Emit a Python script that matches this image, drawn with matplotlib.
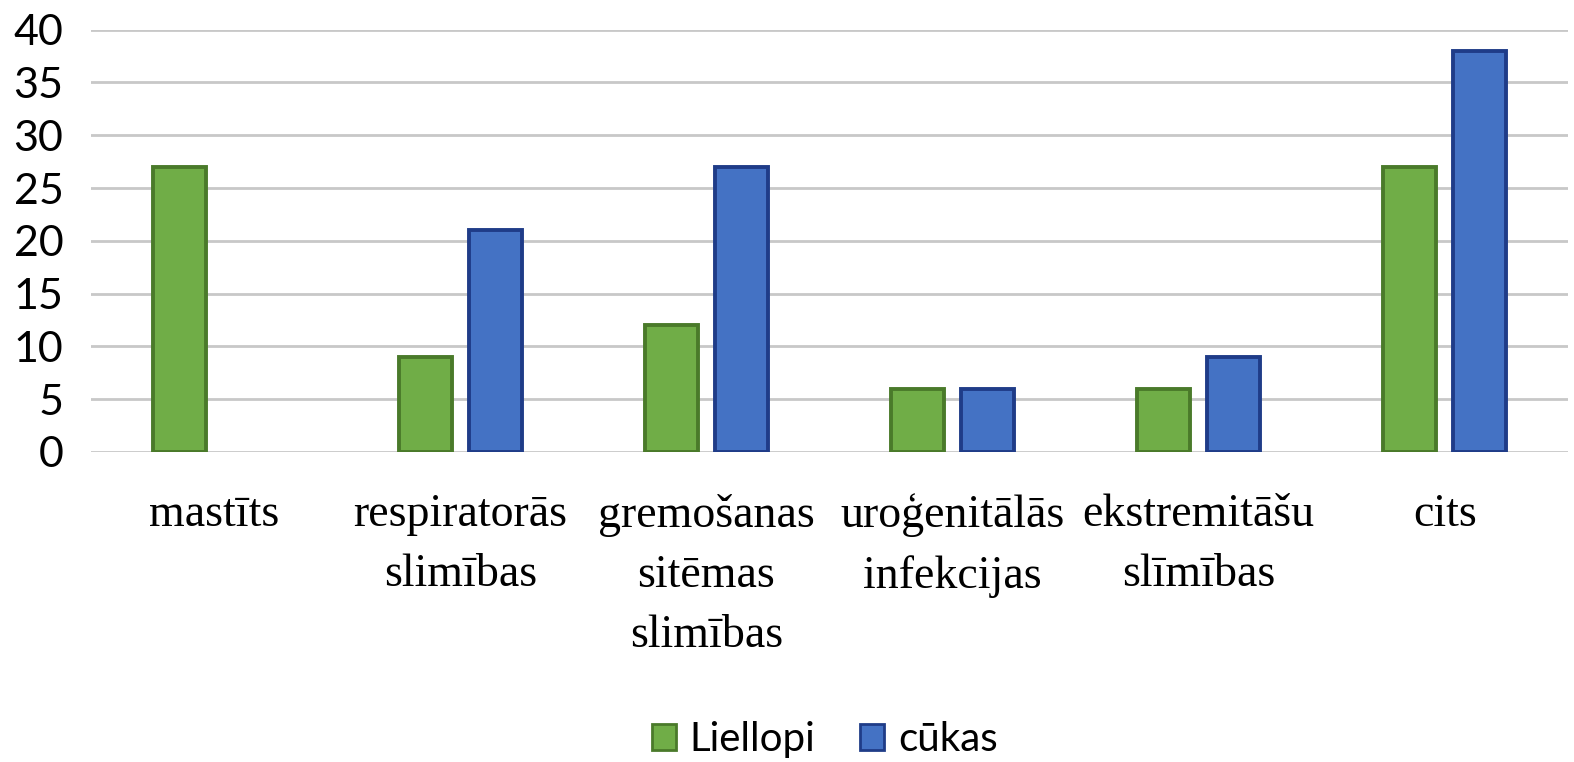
import matplotlib
matplotlib.use("Agg")
import matplotlib.pyplot as plt
import numpy as np
from matplotlib.patches import Patch

categories = ["mastīts", "respiratorās\nslimības", "gremošanas\nsitēmas\nslimības",
              "uroģenitālās\ninfekcijas", "ekstremitāšu\nslīmības", "cits"]
liellopi = [27, 9, 12, 6, 6, 27]
cukas = [0, 21, 27, 6, 9, 38]
series_names = ["Liellopi", "cūkas"]
yticks = [0, 5, 10, 15, 20, 25, 30, 35, 40]

green, green_edge = "#70ad47", "#4a7a2a"
blue, blue_edge = "#4472c4", "#1f3c88"

fig = plt.figure(figsize=(15.74, 7.62), dpi=100)
ax = fig.add_axes([0.058, 0.407, 0.938, 0.554])

x = np.arange(len(categories))
w = 0.215
off = 0.142
lw_g = [2.8 if v > 0 else 0 for v in liellopi]
lw_b = [2.8 if v > 0 else 0 for v in cukas]
ax.bar(x - off, liellopi, w, color=green, edgecolor=green_edge, linewidth=lw_g, zorder=3)
ax.bar(x + off, cukas, w, color=blue, edgecolor=blue_edge, linewidth=lw_b, zorder=3)

ax.set_xlim(-0.5, len(categories) - 0.5)
ax.set_ylim(0, 40)
ax.set_yticks(yticks)
ax.set_yticklabels([str(t) for t in yticks], fontfamily="Lato", fontsize=31)
ax.yaxis.grid(True, color="#c8c8c8", linewidth=2, zorder=0)
ax.set_axisbelow(True)
for s in ax.spines.values():
    s.set_visible(False)
ax.tick_params(axis="y", length=0, pad=20)
ax.tick_params(axis="x", length=0, pad=30)
ax.set_xticks(x)
ax.set_xticklabels(categories, fontfamily="Liberation Serif", fontsize=33, linespacing=1.55, va="top")

handles = [Patch(facecolor=green, edgecolor=green_edge, linewidth=2),
           Patch(facecolor=blue, edgecolor=blue_edge, linewidth=2)]
fig.legend(handles, series_names, loc="center", bbox_to_anchor=(0.524, 0.029), ncol=2,
           frameon=False, prop={"family": "Lato", "size": 29},
           handlelength=0.6, handleheight=0.6, handletextpad=0.35, columnspacing=1.1)

fig.savefig("out.png", dpi=100)
